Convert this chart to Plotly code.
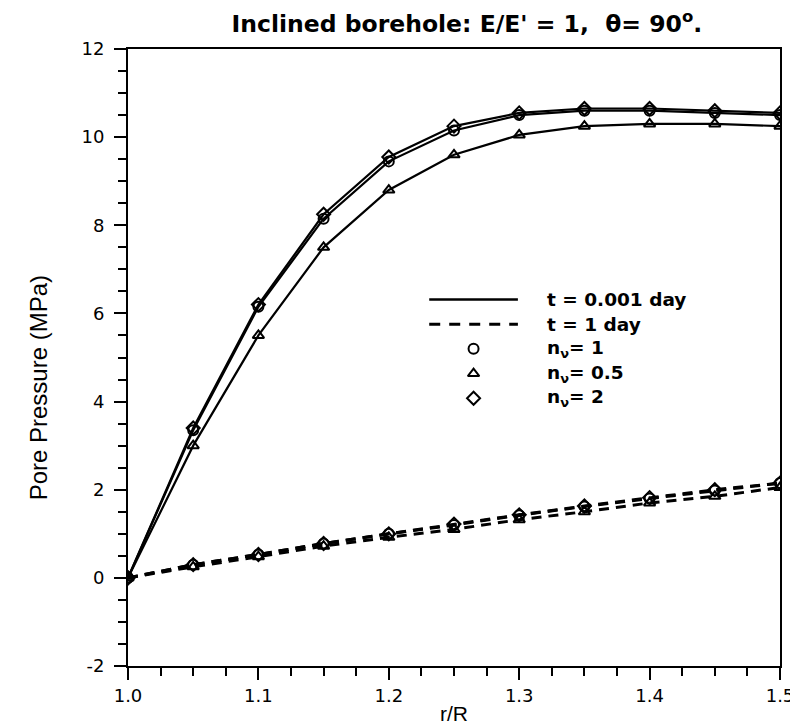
import plotly.graph_objects as go

# ---- data ----
r_R = [1.0, 1.05, 1.1, 1.15, 1.2, 1.25, 1.3, 1.35, 1.4, 1.45, 1.5]

# t = 0.001 day (solid)
p_short_n1 = [0.0, 3.35, 6.15, 8.15, 9.45, 10.15, 10.5, 10.6, 10.6, 10.55, 10.5]
p_short_n05 = [0.0, 3.0, 5.5, 7.5, 8.8, 9.6, 10.05, 10.25, 10.3, 10.3, 10.25]
p_short_n2 = [0.0, 3.4, 6.2, 8.25, 9.55, 10.25, 10.55, 10.65, 10.65, 10.6, 10.55]

# t = 1 day (dashed)
p_long_n1 = [0.0, 0.3, 0.53, 0.78, 1.0, 1.2, 1.42, 1.62, 1.8, 1.98, 2.15]
p_long_n05 = [0.0, 0.25, 0.48, 0.72, 0.92, 1.1, 1.32, 1.5, 1.7, 1.85, 2.05]
p_long_n2 = [0.0, 0.3, 0.53, 0.78, 1.0, 1.22, 1.43, 1.63, 1.82, 2.0, 2.15]

x_ticks = [1.0, 1.1, 1.2, 1.3, 1.4, 1.5]
x_ticklabels = ["1.0", "1.1", "1.2", "1.3", "1.4", "1.5"]
y_ticks = [-2, 0, 2, 4, 6, 8, 10, 12]
y_ticklabels = ["-2", "0", "2", "4", "6", "8", "10", "12"]

legend_labels = ["t = 0.001 day", "t = 1 day", "n<sub>ν</sub>= 1", "n<sub>ν</sub>= 0.5", "n<sub>ν</sub>= 2"]

BOLD = "DejaVu Sans, Liberation Sans, Arial, sans-serif"
REG = "Liberation Sans, Arial, sans-serif"

fig = go.Figure()

series = [
    (p_short_n1, "solid", "circle-open"),
    (p_short_n05, "solid", "triangle-up-open"),
    (p_short_n2, "solid", "diamond-open"),
    (p_long_n1, "dash", "circle-open"),
    (p_long_n05, "dash", "triangle-up-open"),
    (p_long_n2, "dash", "diamond-open"),
]
for vals, dash, sym in series:
    fig.add_trace(go.Scatter(
        x=r_R, y=vals, mode="lines",
        line=dict(color="black", width=2.2 if dash == "solid" else 3,
                  dash="solid" if dash == "solid" else "10px,7px"),
        showlegend=False, hoverinfo="skip"))
for vals, dash, sym in series:
    fig.add_trace(go.Scatter(
        x=r_R, y=vals, mode="markers",
        marker=dict(symbol=sym, size=10, color="black", line=dict(width=2, color="black")),
        showlegend=False, hoverinfo="skip"))

# ---- manual legend on an overlay axis (0..1) ----
leg_rows = [0.594, 0.554, 0.514, 0.474, 0.434]
leg_x0, leg_x1, leg_txt = 0.462, 0.598, 0.64
fig.add_trace(go.Scatter(x=[leg_x0, leg_x1], y=[leg_rows[0]] * 2, mode="lines",
                         line=dict(color="black", width=2.4), xaxis="x2", yaxis="y2",
                         showlegend=False, hoverinfo="skip"))
fig.add_trace(go.Scatter(x=[leg_x0, leg_x1], y=[leg_rows[1]] * 2, mode="lines",
                         line=dict(color="black", width=3, dash="11px,9px"), xaxis="x2", yaxis="y2",
                         showlegend=False, hoverinfo="skip"))
for row, sym in zip(leg_rows[2:], ["circle-open", "triangle-up-open", "diamond-open"]):
    fig.add_trace(go.Scatter(x=[(leg_x0 + leg_x1) / 2], y=[row], mode="markers",
                             marker=dict(symbol=sym, size=10, color="black", line=dict(width=2, color="black")),
                             xaxis="x2", yaxis="y2", showlegend=False, hoverinfo="skip"))
for row, lab in zip(leg_rows, legend_labels):
    fig.add_annotation(x=leg_txt, y=row, xref="x2", yref="y2", text="<b>" + lab + "</b>",
                       showarrow=False, xanchor="left", yanchor="middle",
                       font=dict(family=BOLD, size=18.5, color="black"))

# y-axis title as annotation (slightly below centre, as in the reference)
fig.add_annotation(x=-0.138, y=0.45, xref="paper", yref="paper", text="Pore Pressure (MPa)",
                   textangle=-90, showarrow=False, xanchor="center", yanchor="middle",
                   font=dict(family=REG, size=24, color="black"))

fig.update_layout(
    width=798, height=726,
    margin=dict(l=120, r=23, t=41, b=54),
    paper_bgcolor="white", plot_bgcolor="white",
    title=dict(text="<b>Inclined borehole: E/E' = 1,  θ= 90<sup>o</sup>.</b>", x=0.575, xanchor="center",
               y=0.99, yanchor="top", font=dict(family=BOLD, size=23.5, color="black")),
    font=dict(family=REG, color="black"),
    xaxis=dict(range=[1.0, 1.5], tickvals=x_ticks, ticktext=x_ticklabels,
               ticks="outside", ticklen=12, tickwidth=2, tickcolor="black",
               showline=True, linecolor="black", linewidth=2, mirror=True,
               showgrid=False, zeroline=False,
               tickfont=dict(family=BOLD, size=18, color="black"),
               minor=dict(dtick=0.025, ticks="outside", ticklen=8, tickwidth=2, tickcolor="black"),
               title=dict(text="r/R", font=dict(family=REG, size=21, color="black"), standoff=2)),
    yaxis=dict(range=[-2, 12], tickvals=y_ticks, ticktext=y_ticklabels,
               ticks="outside", ticklen=12, tickwidth=2, tickcolor="black",
               showline=True, linecolor="black", linewidth=2, mirror=True,
               showgrid=False, zeroline=False, ticklabelstandoff=6,
               tickfont=dict(family=BOLD, size=18, color="black"),
               minor=dict(dtick=0.5, ticks="outside", ticklen=8, tickwidth=2, tickcolor="black")),
    xaxis2=dict(range=[0, 1], overlaying="x", visible=False, fixedrange=True),
    yaxis2=dict(range=[0, 1], overlaying="y", visible=False, fixedrange=True),
)

fig.write_html("out.html")
